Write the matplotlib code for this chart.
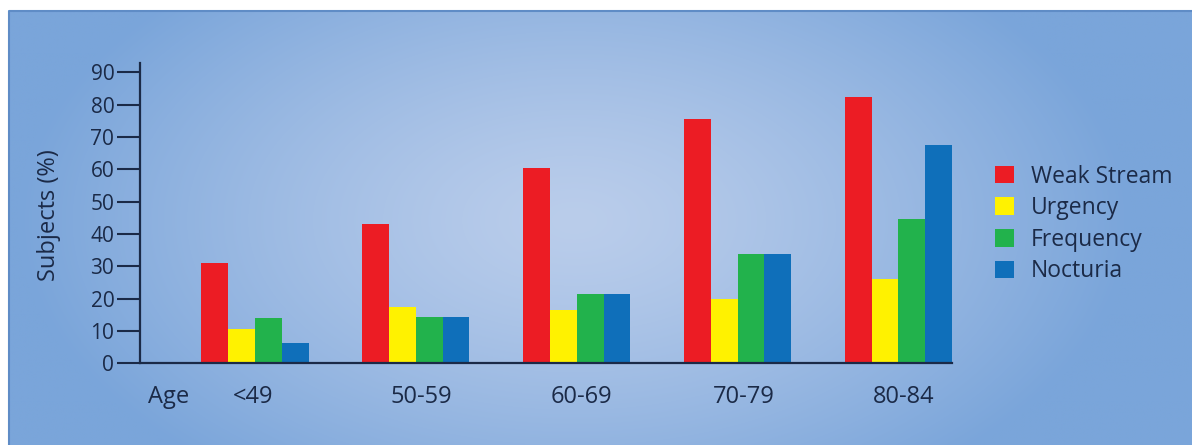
import numpy as np
import matplotlib
matplotlib.use("Agg")
import matplotlib.pyplot as plt
from matplotlib.patches import Rectangle

# Prevalence of lower urinary tract symptoms by age band
age_groups = ["<49", "50-59", "60-69", "70-79", "80-84"]
series_names = ["Weak Stream", "Urgency", "Frequency", "Nocturia"]
weak_stream = [31, 43, 60.5, 75.5, 82.5]
urgency = [10.5, 17.5, 16.5, 20, 26]
frequency = [14, 14.2, 21.3, 33.7, 44.5]
nocturia = [6.4, 14.2, 21.3, 33.7, 67.5]
yticks = [0, 10, 20, 30, 40, 50, 60, 70, 80, 90]

colors = ["#ec1c24", "#fff200", "#22b24c", "#0f6fba"]
ink = "#1b2a47"
FONT = "Open Sans"

W, H = 1192, 445
fig = plt.figure(figsize=(W / 100, H / 100), dpi=100)
fig.patch.set_facecolor("white")

# Panel background: soft elliptical blue gradient
bg = fig.add_axes([0, 0, 1, 1])
bg.set_xlim(0, W)
bg.set_ylim(H, 0)
bg.axis("off")
yy, xx = np.mgrid[0:H, 0:W]
cx, cy, rx, ry = 570, 215, 560, 330
d = np.clip(np.sqrt(((xx - cx) / rx) ** 2 + ((yy - cy) / ry) ** 2), 0, 1)
center = np.array([186, 205, 235]) / 255
edge = np.array([122, 165, 218]) / 255
t = d[..., None] ** 1.3
img = center * (1 - t) + edge * t
bg.imshow(img, extent=(8, W, H, 10), aspect="auto", interpolation="bilinear")
bg.add_patch(Rectangle((8.5, 10.5), W, H, fill=False, edgecolor="#5f8cc6", lw=1.5))

# Main chart axes
ax_h = 0.6757
ax = fig.add_axes([140 / W, (H - 363.3) / H, (952 - 140) / W, ax_h])
ax.patch.set_alpha(0)
n = len(age_groups)
x = np.arange(n)
bw = 1 / 6
all_series = [weak_stream, urgency, frequency, nocturia]
for i, (vals, name, c) in enumerate(zip(all_series, series_names, colors)):
    ax.bar(x + (i - 1.5) * bw, vals, width=bw, color=c, label=name, zorder=2)

ax.set_xlim(-0.715, 4 + 2 * bw)
ax.set_ylim(0, 93)
for s in ["top", "right"]:
    ax.spines[s].set_visible(False)
for s in ["left", "bottom"]:
    ax.spines[s].set_color(ink)
    ax.spines[s].set_linewidth(1.6)
ax.set_yticks(yticks)
ax.set_yticklabels([str(v) for v in yticks], fontsize=15, color=ink, family=FONT)
ax.tick_params(axis="y", length=16.5, width=1.5, color=ink, pad=2)
ax.set_xticks([])
ax.set_ylabel("Subjects (%)", fontsize=17, color=ink, family=FONT)
ax.yaxis.set_label_coords((61 - 140) / (952 - 140), (363.3 - 215) / (ax_h * H))

# Age labels under the axis
label_shift = [-0.014, 0.035, 0.031, 0.036, 0.03]
ax.text(-0.535, -10.4, "Age", ha="center", va="center", fontsize=17,
        color=ink, family=FONT, clip_on=False)
for xi, sh, lab in zip(x, label_shift, age_groups):
    ax.text(xi + sh, -10.4, lab, ha="center", va="center", fontsize=17,
            color=ink, family=FONT, clip_on=False)

leg = fig.legend(loc="center left", bbox_to_anchor=(995 / W, (H - 224) / H),
                 frameon=False, prop={"family": FONT, "size": 16.5},
                 handlelength=0.85, handleheight=0.8, handletextpad=0.7,
                 labelspacing=0.33, borderpad=0, borderaxespad=0)
for txt in leg.get_texts():
    txt.set_color(ink)

fig.savefig("out.png", dpi=100)
